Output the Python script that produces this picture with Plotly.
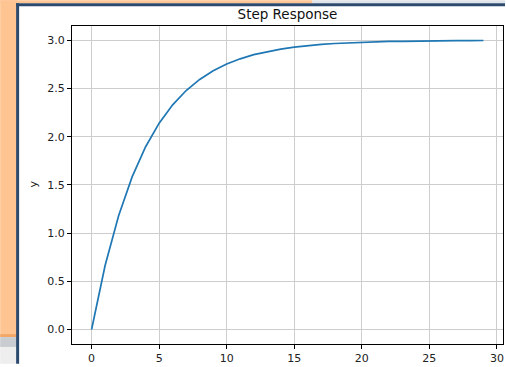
import plotly.graph_objects as go

t = list(range(30))
y = [0.0, 0.664, 1.180, 1.583, 1.896, 2.141, 2.331, 2.479, 2.594, 2.684,
     2.754, 2.808, 2.851, 2.884, 2.909, 2.929, 2.945, 2.957, 2.967, 2.974,
     2.980, 2.984, 2.988, 2.990, 2.993, 2.994, 2.996, 2.996, 2.997, 2.998]
x_ticks = [0, 5, 10, 15, 20, 25, 30]
y_ticks = [0.0, 0.5, 1.0, 1.5, 2.0, 2.5, 3.0]

W, H = 506, 367
ml, mr, mt, mb = 72, 2, 26, 20

def px(v):
    return (v - ml) / (W - ml - mr)

def py(v):
    return 1 - (v - mt) / (H - mt - mb)

def rect(x0, y0, x1, y1, color):
    return dict(type="rect", xref="paper", yref="paper",
                x0=px(x0), x1=px(x1), y0=py(y1), y1=py(y0),
                fillcolor=color, line=dict(width=0), layer="below")

shapes = [
    rect(0, 0, 17, 338, "#fec593"),
    rect(0, 0, 313, 3, "#fec593"),
    rect(313, 0, 506, 3, "#dfe4ea"),
    rect(0, 337, 17, 340, "#f2a766"),
    rect(0, 340, 17, 350, "#c9ccd0"),
    rect(0, 350, 17, 367, "#eeeeee"),
    rect(16, 3, 19, 367, "#2c4a6e"),
    rect(16, 3, 506, 6, "#2c4a6e"),
]

fig = go.Figure()
fig.add_trace(go.Scatter(x=t, y=y, mode="lines",
                         line=dict(color="#1f77b4", width=1.7),
                         showlegend=False, hoverinfo="skip"))

font = "DejaVu Sans, sans-serif"
axis_common = dict(showline=True, linecolor="black", linewidth=1, mirror=True,
                   ticks="outside", ticklen=4, tickcolor="black", tickwidth=1,
                   showgrid=True, gridcolor="#cdcdcd", gridwidth=1,
                   zeroline=False, tickfont=dict(family=font, size=11, color="#222"))

fig.update_layout(
    width=W, height=H,
    margin=dict(l=ml, r=mr, t=mt, b=mb),
    paper_bgcolor="white", plot_bgcolor="white",
    title=dict(text="Step Response", x=0.5, xref="paper", xanchor="center",
               y=1 - 14 / H, yref="container", yanchor="middle",
               font=dict(family=font, size=13.5, color="#111")),
    xaxis=dict(range=[-1.45, 30.45], tickvals=x_ticks, **axis_common),
    yaxis=dict(range=[-0.15, 3.1485], tickvals=y_ticks, tickformat=".1f", **axis_common),
    shapes=shapes,
    annotations=[dict(text="y", xref="paper", yref="paper", x=px(33), y=py(186),
                      textangle=-90, showarrow=False, xanchor="center", yanchor="middle",
                      font=dict(family=font, size=11, color="#222"))],
)

fig.write_html("out.html", config={"displayModeBar": False},
               post_script="document.body.style.margin='0';document.body.style.overflow='hidden';")
